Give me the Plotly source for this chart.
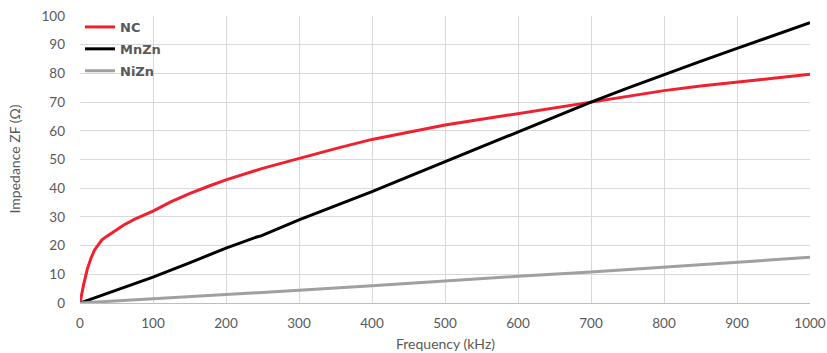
import plotly.graph_objects as go

# ---- data ----
nc_freq = [0, 2, 5, 10, 15, 20, 25, 30, 37, 50, 60, 75, 90, 100, 125, 150, 175, 200, 250,
           300, 350, 400, 450, 500, 550, 600, 650, 700, 750, 800, 850, 900, 950, 1000]
nc_z = [0, 3.0, 6.5, 11.8, 15.6, 18.5, 20.4, 22.0, 23.3, 25.5, 27.2, 29.2, 30.9, 32.0,
        35.3, 38.1, 40.6, 42.9, 46.9, 50.4, 53.8, 57.0, 59.6, 62.0, 64.0, 66.0, 68.1,
        70.1, 72.2, 74.0, 75.6, 77.0, 78.4, 79.7]

mnzn_freq = [0, 50, 100, 150, 200, 242, 248, 300, 350, 400, 450, 500, 550, 600, 650,
             700, 750, 800, 850, 900, 950, 1000]
mnzn_z = [0, 4.4, 9.0, 14.0, 19.1, 23.0, 23.4, 29.0, 33.9, 38.8, 44.0, 49.2, 54.5,
          59.7, 65.0, 70.0, 74.9, 79.6, 84.2, 88.7, 93.2, 97.7]

nizn_freq = [0, 100, 200, 300, 400, 500, 600, 700, 800, 900, 1000]
nizn_z = [0, 1.4, 2.9, 4.4, 6.0, 7.7, 9.3, 10.8, 12.5, 14.1, 15.9]

x_ticks = [0, 100, 200, 300, 400, 500, 600, 700, 800, 900, 1000]
y_ticks = [0, 10, 20, 30, 40, 50, 60, 70, 80, 90, 100]

FONT = "Lato, 'Open Sans', sans-serif"
LEG_FONT = "'DejaVu Sans', sans-serif"
GRAY = "#595959"
GRID = "#d9d9d9"

fig = go.Figure()
fig.add_trace(go.Scatter(x=nc_freq, y=nc_z, mode="lines", name="NC", legendgroup="nc",
                         line=dict(color="#f0202f", width=3)))
fig.add_trace(go.Scatter(x=mnzn_freq, y=mnzn_z, mode="lines", name="MnZn", legendgroup="mnzn",
                         line=dict(color="#000000", width=3)))
fig.add_trace(go.Scatter(x=nizn_freq, y=nizn_z, mode="lines", name="NiZn", legendgroup="nizn",
                         line=dict(color="#a0a0a0", width=3)))

fig.update_layout(
    width=827, height=353,
    margin=dict(l=80, r=17, t=16, b=50),
    paper_bgcolor="white", plot_bgcolor="white",
    font=dict(family=FONT, color=GRAY, size=14),
    showlegend=True,
    legend=dict(x=0, y=1.014, xanchor="left", yanchor="top",
                bgcolor="rgba(255,255,255,0)",
                font=dict(family=LEG_FONT, size=13, color=GRAY, weight="bold"),
                itemwidth=30, borderwidth=0, tracegroupgap=2),
    # white patch behind the legend, above the gridlines
    shapes=[dict(type="rect", xref="paper", yref="paper", x0=0.002, x1=0.118,
                 y0=0.774, y1=0.996, fillcolor="white", line=dict(width=0),
                 layer="between")],
    xaxis=dict(range=[0, 1000], tickvals=x_ticks, showgrid=True, gridcolor=GRID,
               gridwidth=1, zeroline=False, showline=True, linecolor="#bfbfbf",
               linewidth=1, ticks="", automargin=False, ticklabelstandoff=8,
               ticklabeloverflow="allow",
               tickfont=dict(size=13.5, color=GRAY, family=FONT)),
    yaxis=dict(range=[0, 100], tickvals=y_ticks, showgrid=True, gridcolor=GRID,
               gridwidth=1, zeroline=False, showline=False, ticks="", automargin=False,
               ticklabelstandoff=14, ticklabeloverflow="allow",
               tickfont=dict(size=13.5, color=GRAY, family=FONT)),
    annotations=[
        dict(text="Frequency (kHz)", xref="paper", yref="paper", x=0.5, y=0,
             xanchor="center", yanchor="middle", yshift=-40, showarrow=False,
             font=dict(size=14, color=GRAY, family=FONT)),
        dict(text="Impedance ZF (Ω)", xref="paper", yref="paper", x=0, y=0.5,
             xanchor="center", yanchor="middle", xshift=-66, textangle=-90,
             showarrow=False, font=dict(size=14, color=GRAY, family=FONT)),
    ],
)

fig.write_html("out.html", config={"displayModeBar": False},
               post_script="document.body.style.margin='0';")
